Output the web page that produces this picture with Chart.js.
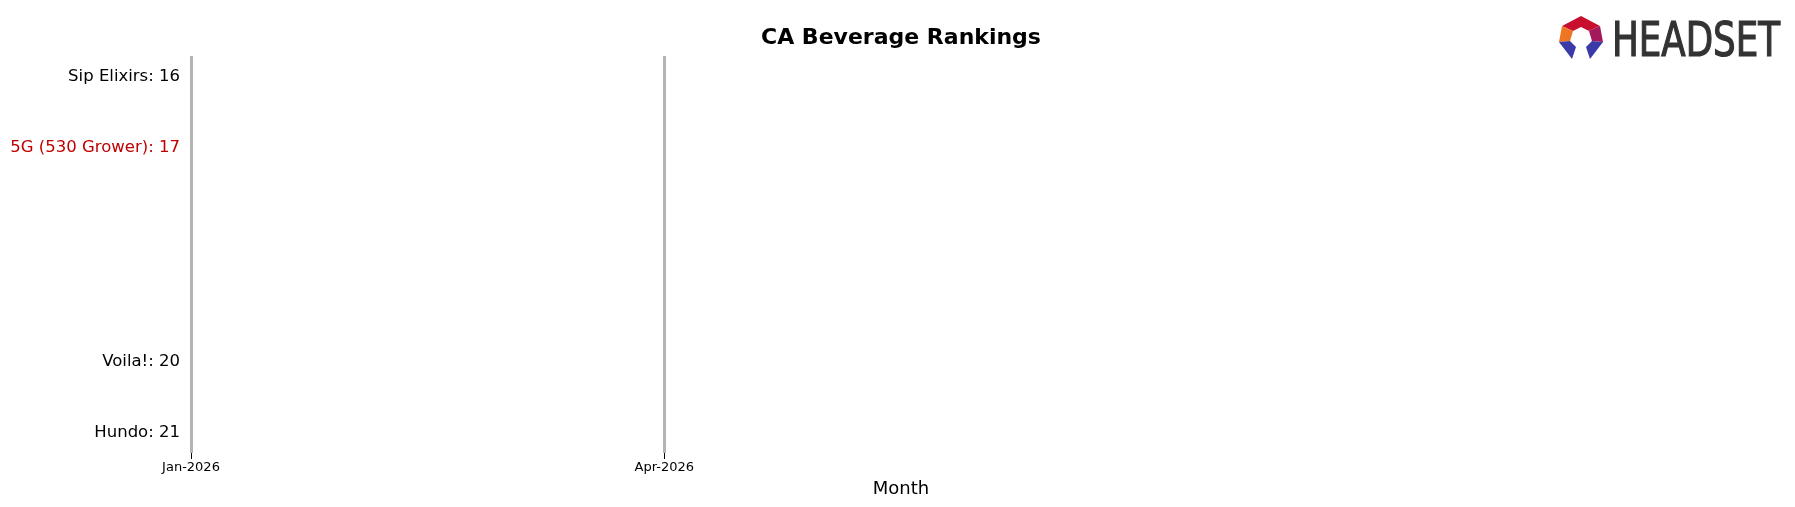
<!DOCTYPE html>
<html><head><meta charset="utf-8">
<script src="https://cdn.jsdelivr.net/npm/chart.js@4"></script>
<style>html,body{margin:0;padding:0;background:#fff}canvas{display:block}</style>
</head><body>
<canvas id="c" width="1795" height="507"></canvas>
<script>
const months = ["Jan-2026","Feb-2026","Mar-2026","Apr-2026","May-2026","Jun-2026","Jul-2026","Aug-2026","Sep-2026","Oct-2026"];
const tickMonths = ["Jan-2026","Apr-2026"];
const brands = ["Sip Elixirs","5G (530 Grower)","Voila!","Hundo"];
const ranks = [16,17,20,21];
const brandColors = ["#000000","#c00000","#000000","#000000"];

const datasets = brands.map((b,i)=>({label:b,data:[],borderColor:brandColors[i],pointRadius:0}));

const logo = {id:'logo',afterDraw(ch){const c=ch.ctx;c.save();
  const cx=1581;
  c.beginPath();c.moveTo(cx,16);c.lineTo(cx+19,26);c.lineTo(cx+8,31);c.lineTo(cx,27);c.lineTo(cx-8,31);c.lineTo(cx-19,26);c.closePath();c.fillStyle="#c8102e";c.fill();
  c.beginPath();c.moveTo(cx+19,26);c.lineTo(cx+22,42);c.lineTo(cx+11,41);c.lineTo(cx+8,31);c.closePath();c.fillStyle="#a3195b";c.fill();
  c.beginPath();c.moveTo(cx-19,26);c.lineTo(cx-22,42);c.lineTo(cx-11,41);c.lineTo(cx-8,31);c.closePath();c.fillStyle="#ee7623";c.fill();
  c.beginPath();c.moveTo(cx+22,42);c.lineTo(cx+9,59);c.lineTo(cx+5,47);c.lineTo(cx+11,41);c.closePath();c.fillStyle="#3a3aa8";c.fill();
  c.beginPath();c.moveTo(cx-22,42);c.lineTo(cx-9,59);c.lineTo(cx-5,47);c.lineTo(cx-11,41);c.closePath();c.fillStyle="#3a3aa8";c.fill();
  c.fillStyle="#333";c.font="48px 'DejaVu Sans Condensed','Liberation Sans Narrow',sans-serif";c.textBaseline="alphabetic";c.textAlign="left";
  c.fillText("HEADSET",1612,56,168);
  c.lineWidth=1.2;c.strokeStyle="#333";c.strokeText("HEADSET",1612,56,168);
  c.fillStyle="#000";c.font="bold 22px 'DejaVu Sans'";c.textAlign="center";c.textBaseline="middle";
  c.fillText("CA Beverage Rankings",901,38);
  c.restore();}};

new Chart(document.getElementById('c'),{
  type:'line',
  data:{labels:months,datasets},
  options:{responsive:false,devicePixelRatio:1,animation:false,
    layout:{padding:{left:0,right:184,top:56,bottom:7}},
    plugins:{legend:{display:false},tooltip:{enabled:false}},
    scales:{
      x:{type:'linear',min:0,max:months.length-1,
        afterBuildTicks(s){s.ticks=tickMonths.map(m=>({value:months.indexOf(m)}));},
        afterFit(s){s.height=47;},
        border:{display:false},
        grid:{color:'#b4b4b4',lineWidth:3,drawTicks:true,tickLength:6,tickColor:'#000',tickWidth:1},
        ticks:{autoSkip:false,maxRotation:0,padding:1,color:'#000',font:{family:'DejaVu Sans',size:13},callback:v=>months[v]},
        title:{display:true,text:'Month',color:'#000',font:{family:'DejaVu Sans',size:18},padding:{top:0,bottom:0}}},
      y:{reverse:true,min:15.715,max:21.285,
        afterBuildTicks(s){s.ticks=ranks.map(r=>({value:r}));},
        afterFit(s){s.width=191;},
        border:{display:false},grid:{display:false,drawTicks:false},
        ticks:{padding:11,autoSkip:false,font:{family:'DejaVu Sans',size:16.5},
          color:ctx=>brandColors[ranks.indexOf(ctx.tick.value)],
          callback:v=>brands[ranks.indexOf(v)]+': '+v}}
    }},
  plugins:[logo]
});
</script>
</body></html>
